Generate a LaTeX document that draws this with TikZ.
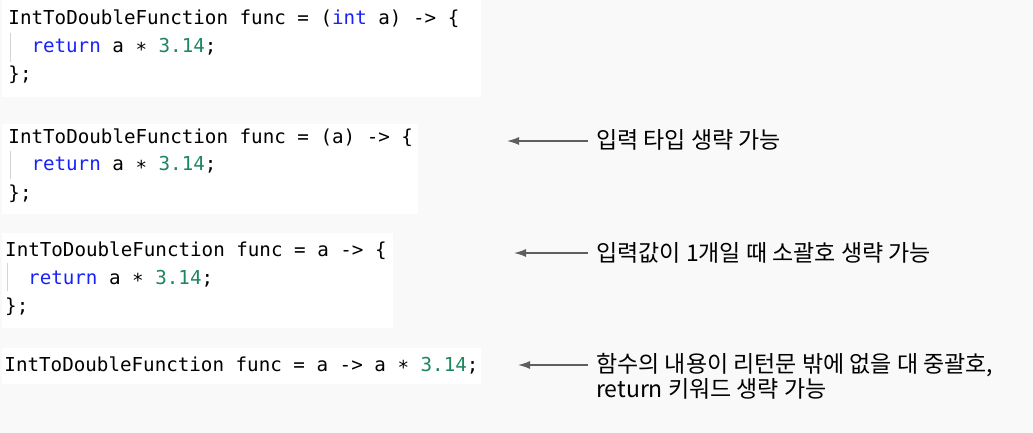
\documentclass[tikz,border=0pt]{standalone}
\usepackage{fontspec}
\usetikzlibrary{arrows.meta}
\newfontfamily\codefont{DejaVu Sans Mono}
\newfontfamily\krfont{Noto Sans CJK KR}
\definecolor{bggray}{HTML}{F9F9FA}
\definecolor{kwblue}{RGB}{25,35,245}
\definecolor{numgreen}{RGB}{30,135,95}
\definecolor{guidegray}{HTML}{D4D4D4}
\definecolor{arrowgray}{HTML}{5F5F5F}
\newcommand{\kwd}[1]{\textcolor{kwblue}{#1}}
\newcommand{\numl}[1]{\textcolor{numgreen}{#1}}
\newcommand{\mulop}{\raisebox{-0.17em}{*}}
\begin{document}
\begin{tikzpicture}[x=1pt,y=-1pt,
  code/.style={anchor=base west, inner sep=0pt, font=\codefont\fontsize{19.2}{28}\selectfont, text=black},
  codebox/.style={fill=white},
  guide/.style={draw=guidegray, line width=1pt},
  note/.style={anchor=base west, inner sep=0pt, font=\krfont\fontsize{23}{25}\selectfont, text=black},
  pointer/.style={draw=arrowgray, line width=1.4pt, -{Latex[length=12pt,width=8pt]}}]
\fill[bggray] (0,0) rectangle (1033,433);
\useasboundingbox (0,0) rectangle (1033,433);
% boxes
\fill[codebox] (2,0) rectangle (481,97);
\fill[codebox] (2,124) rectangle (418,214);
\fill[codebox] (2,233) rectangle (393,328);
\fill[codebox] (2,348) rectangle (481,384);
% box 1
\node[code] (a1) at (8.3,25) {IntToDoubleFunction func = (\kwd{int} a) -> \{};
\node[code] (a2) at (31.3,53) {\kwd{return} a \mulop{} \numl{3.14};};
\node[code] (a3) at (8.3,81) {\};};
\draw[guide] (10,33) -- (10,62);
% box 2
\node[code] (b1) at (8.3,143) {IntToDoubleFunction func = (a) -> \{};
\node[code] (b2) at (31.3,171) {\kwd{return} a \mulop{} \numl{3.14};};
\node[code] (b3) at (8.3,199) {\};};
\draw[guide] (10,151) -- (10,179);
% box 3
\node[code] (c1) at (5,256) {IntToDoubleFunction func = a -> \{};
\node[code] (c2) at (28,284) {\kwd{return} a \mulop{} \numl{3.14};};
\node[code] (c3) at (5,312) {\};};
\draw[guide] (7,263) -- (7,291);
% box 4
\node[code] (d1) at (4.3,371) {IntToDoubleFunction func = a -> a \mulop{} \numl{3.14};};
% notes
\node[note] (n1) at (596,149) {입력 타입 생략 가능};
\node[note] (n2) at (596,261) {입력값이 1개일 때 소괄호 생략 가능};
\node[note] (n3a) at (596,372) {함수의 내용이 리턴문 밖에 없을 대 중괄호,};
\node[note] (n3b) at (596,397) {return 키워드 생략 가능};
% arrows
\coordinate (s1) at (588,141);
\coordinate (t1) at (507,141);
\coordinate (s2) at (588,253);
\coordinate (t2) at (514,253);
\coordinate (s3) at (588,365);
\coordinate (t3) at (518,365);
\draw[pointer] (s1) -- (t1);
\draw[pointer] (s2) -- (t2);
\draw[pointer] (s3) -- (t3);
\end{tikzpicture}
\end{document}
